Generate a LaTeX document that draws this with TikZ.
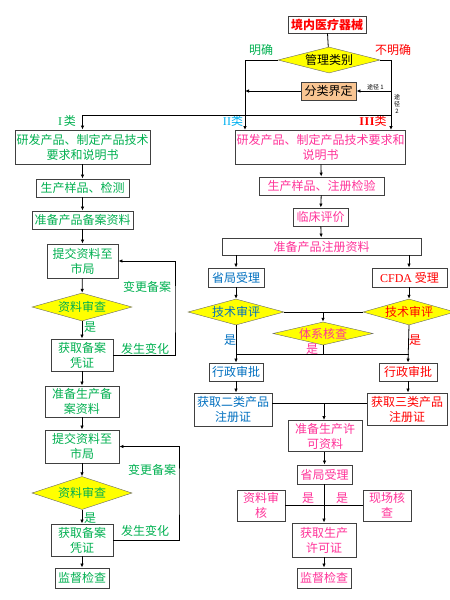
\documentclass[tikz,border=0pt]{standalone}
\usepackage{fontspec}
\setmainfont{Noto Sans CJK SC}
\newfontfamily\latinserif{Liberation Serif}
\usetikzlibrary{shapes.geometric,arrows.meta}
\definecolor{cgreen}{HTML}{00B050}
\definecolor{cpink}{HTML}{FF3399}
\definecolor{cblue}{HTML}{0070C0}
\definecolor{cred}{HTML}{FF0000}
\definecolor{ccyan}{HTML}{00B0F0}
\definecolor{cyellow}{HTML}{FFFF00}
\definecolor{corange}{HTML}{F9C592}
\begin{document}
\begin{tikzpicture}[x=1pt, y=-1pt,
        every node/.style={font=\fontsize{12}{15}\selectfont, align=center},
        box/.style={draw=black!75, line width=0.9pt, fill=white, inner sep=1pt},
        decide/.style={draw=black!60, fill=cyellow, shape=diamond, aspect=3.5, inner sep=0pt},
        tag/.style={inner sep=0pt},
        small/.style={inner sep=0pt, font=\fontsize{6}{7}\selectfont},
        flow/.style={-{Latex[length=4pt,width=3.5pt]}, line width=0.8pt},
        line/.style={line width=0.8pt},
    ]
    \useasboundingbox (0,0) rectangle (450,600);
    % top
    \node[box, text=cred, minimum width=78pt, minimum height=17pt, font=\fontsize{12}{15}\selectfont\bfseries](top) at (327,24.5){境内医疗器械};
    \node[decide, minimum width=102pt, minimum height=26pt](kind) at (329,60){管理类别};
    \node[box, fill=corange, minimum width=55pt, minimum height=18pt](define) at (328.5,91){分类界定};
    \node[tag, text=cgreen](clear) at (261,50){明确};
    \node[tag, text=cred](unclear) at (393,50){不明确};
    \coordinate (inII) at (245,130);
    \coordinate (inIII) at (391,130);
    \coordinate (split) at (391,115);
    \draw[line] (top) -- (kind);
    \draw[flow] (kind.west) -| (inII);
    \draw[flow] (kind.east) -| (inIII);
    \draw[flow] (define.east -| inIII) -- (define.east) node[small, pos=0.45, above=1pt]{途径 1};
    \draw[flow] (define.west) -- (define.west -| inII);
    \node[small](way2) at (397,104){途\\径\\2};
    \node[tag, text=cgreen](typeI) at (67,121){{\latinserif I}\,类};
    \node[tag, text=ccyan](typeII) at (233,121){{\latinserif I\kern0.5pt I}类};
    \node[tag, text=cred](typeIII) at (373,121){{\latinserif\bfseries I\kern0.5pt I\kern0.5pt I}类};
    % class I
    \node[box, text=cgreen, minimum width=135pt, minimum height=34pt](devI) at (82.5,147){研发产品、制定产品技术\\要求和说明书};
    \draw[flow] (split) -| (devI.north);
    \node[box, text=cgreen, minimum width=93pt, minimum height=18pt](sampleI) at (82.5,188){生产样品、检测};
    \node[box, text=cgreen, minimum width=101pt, minimum height=18pt](fileI) at (82.5,220){准备产品备案资料};
    \node[box, text=cgreen, minimum width=71pt, minimum height=34pt](sendI) at (82.5,261){提交资料至\\市局};
    \node[decide, text=cgreen, minimum width=100pt, minimum height=28pt](checkI) at (82,307){资料审查};
    \node[box, text=cgreen, minimum width=62pt, minimum height=32pt](recI) at (82,355){获取备案\\凭证};
    \node[box, text=cgreen, minimum width=74pt, minimum height=31pt](prodI) at (82,401.5){准备生产备\\案资料};
    \node[box, text=cgreen, minimum width=74pt, minimum height=33pt](sendP) at (82,446.5){提交资料至\\市局};
    \node[decide, text=cgreen, minimum width=100pt, minimum height=33pt](checkP) at (82,493){资料审查};
    \node[box, text=cgreen, minimum width=62pt, minimum height=32pt](recP) at (82,540){获取备案\\凭证};
    \node[box, text=cgreen, minimum width=54pt, minimum height=20pt](watchI) at (82,578){监督检查};
    \draw[flow] (devI) -- (sampleI);
    \draw[flow] (sampleI) -- (fileI);
    \draw[flow] (fileI) -- (sendI);
    \draw[flow] (sendI) -- (checkI);
    \draw[flow] (checkI) -- (recI);
    \draw[flow] (recI) -- (prodI);
    \draw[flow] (prodI) -- (sendP);
    \draw[flow] (sendP) -- (checkP);
    \draw[flow] (checkP) -- (recP);
    \draw[flow] (recP) -- (watchI);
    \coordinate (loopI) at (175,310);
    \coordinate (loopP) at (179,490);
    \draw[flow] (recI.east) -| (loopI) |- (sendI.east);
    \draw[flow] (recP.east) -| (loopP) |- (sendP.east);
    \node[tag, text=cgreen] at (90,327){是};
    \node[tag, text=cgreen] at (90,518){是};
    \node[tag, text=cgreen] at (147,287){变更备案};
    \node[tag, text=cgreen] at (145,349){发生变化};
    \node[tag, text=cgreen] at (152,470){变更备案};
    \node[tag, text=cgreen] at (145,531){发生变化};
    % class II and III
    \node[box, text=cpink, minimum width=168pt, minimum height=34pt](devII) at (320.5,147){研发产品、制定产品技术要求和\\说明书};
    \node[box, text=cpink, minimum width=125pt, minimum height=18pt](sampleII) at (321.5,186){生产样品、注册检验};
    \node[box, text=cpink, minimum width=55pt, minimum height=18pt](clinic) at (320.5,217){临床评价};
    \node[box, text=cpink, minimum width=199pt, minimum height=17pt](fileII) at (321.5,246.5){准备产品注册资料};
    \node[box, text=cblue, minimum width=56pt, minimum height=19pt](provII) at (236,277.5){省局受理};
    \node[box, text=cred, minimum width=75pt, minimum height=19pt](cfda) at (409.5,277.5){{\latinserif CFDA} 受理};
    \node[decide, text=cblue, minimum width=96pt, minimum height=26pt](techII) at (236,312){技术审评};
    \node[decide, text=cred, minimum width=92pt, minimum height=26pt](techIII) at (409,312){技术审评};
    \node[decide, text=cpink, aspect=4, minimum width=100pt, minimum height=23pt](system) at (323,333.5){体系核查};
    \node[box, text=cblue, minimum width=54pt, minimum height=18pt](adminII) at (236,372){行政审批};
    \node[box, text=cred, minimum width=58pt, minimum height=18pt](adminIII) at (408,372){行政审批};
    \node[box, text=cblue, minimum width=78pt, minimum height=33pt](certII) at (233,409.5){获取二类产品\\注册证};
    \node[box, text=cred, minimum width=80pt, minimum height=32pt](certIII) at (407,409){获取三类产品\\注册证};
    \draw[flow] (devII) -- (sampleII);
    \draw[flow] (sampleII) -- (clinic);
    \draw[flow] (clinic) -- (fileII);
    \draw[flow] (fileII.south -| provII) -- (provII);
    \draw[flow] (fileII.south -| techIII) -- (cfda.north -| techIII);
    \draw[flow] (provII) -- (techII);
    \draw[flow] (cfda.south -| techIII) -- (techIII.north);
    \draw[line] (techII.east) -- (techIII.west);
    \draw[flow] (techII.east -| system.north) -- (system.north);
    \coordinate (merge) at (323,354);
    \draw[line] (system.south) -- (merge);
    \draw[line] (merge -| techII) -- (merge -| techIII);
    \draw[flow] (techII.south) -- (adminII.north);
    \draw[flow] (techIII.south) -- (adminIII.north);
    \draw[flow] (adminII.south) -- (adminII.south |- certII.north);
    \draw[flow] (adminIII.south) -- (adminIII.south |- certIII.north);
    \node[tag, text=cblue] at (230,340){是};
    \node[tag, text=cred] at (415,340){是};
    \node[tag, text=cpink] at (312,349){是};
    % production licence
    \node[box, text=cpink, minimum width=74pt, minimum height=31pt](prodII) at (325,436){准备生产许\\可资料};
    \node[box, text=cpink, minimum width=55pt, minimum height=19pt](provP) at (324.5,474.5){省局受理};
    \node[box, text=cpink, minimum width=48pt, minimum height=31pt](paper) at (261,505.5){资料审\\核};
    \node[box, text=cpink, minimum width=48pt, minimum height=31pt](site) at (387,505.5){现场核\\查};
    \node[box, text=cpink, minimum width=64pt, minimum height=34pt](licence) at (324,540){获取生产\\许可证};
    \node[box, text=cpink, minimum width=54pt, minimum height=20pt](watchII) at (324,578){监督检查};
    \coordinate (join) at (324,403);
    \draw[line] (join -| certII.east) -- (join -| certIII.west);
    \draw[flow] (join) -- (prodII.north -| join);
    \draw[flow] (prodII.south -| provP) -- (provP);
    \draw[line] (paper) -- (site);
    \draw[flow] (provP.south -| licence) -- (licence);
    \draw[flow] (licence) -- (watchII);
    \node[tag, text=cpink] at (308,498){是};
    \node[tag, text=cpink] at (342,498){是};
\end{tikzpicture}
\end{document}
